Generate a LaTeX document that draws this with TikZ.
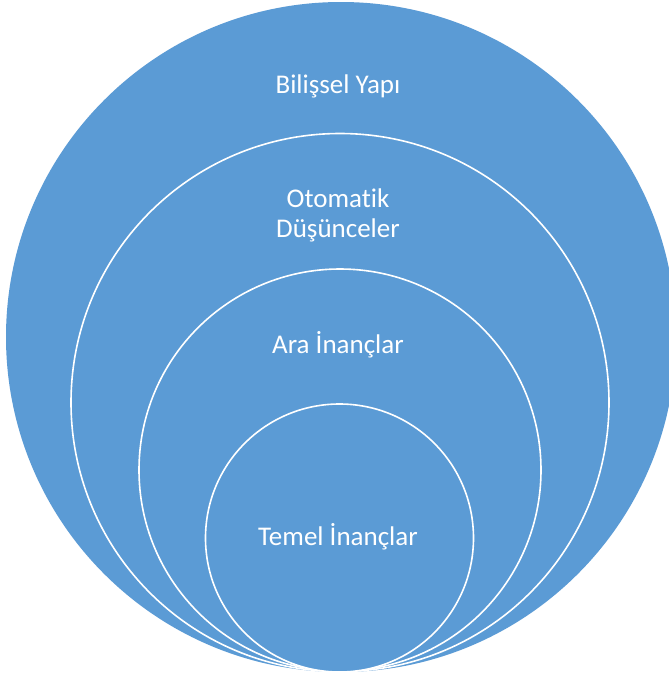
\documentclass[tikz,border=0pt]{standalone}
\usepackage{fontspec}
\setmainfont{Carlito}[Ligatures=NoCommon]
\definecolor{ringblue}{HTML}{5B9BD5}
\begin{document}
\begin{tikzpicture}[x=1pt,y=-1pt,
  ring/.style={circle, fill=ringblue, draw=white, line width=1.6pt, inner sep=0pt, minimum size=#1},
  lbl/.style={text=white, font=\fontsize{27}{30}\selectfont, align=center, anchor=base, inner sep=0pt}]
\path[use as bounding box, clip] (0,0) rectangle (669,678);
\fill[white] (0,0) rectangle (669,678);
\node[ring=670pt, draw=none] (outer) at (341,337) {};
\node[ring=538pt] (auto) at (340,402.5) {};
\node[ring=402pt] (inter) at (340,470) {};
\node[ring=268pt] (core) at (339.5,538) {};
\node[lbl] (t1) at (338,93) {Bilişsel Yapı};
\node[lbl] (t2) at (338,237) {Otomatik\\Düşünceler};
\node[lbl] (t3) at (338,353) {Ara İnançlar};
\node[lbl] (t4) at (338,545) {Temel İnançlar};
\end{tikzpicture}
\end{document}
